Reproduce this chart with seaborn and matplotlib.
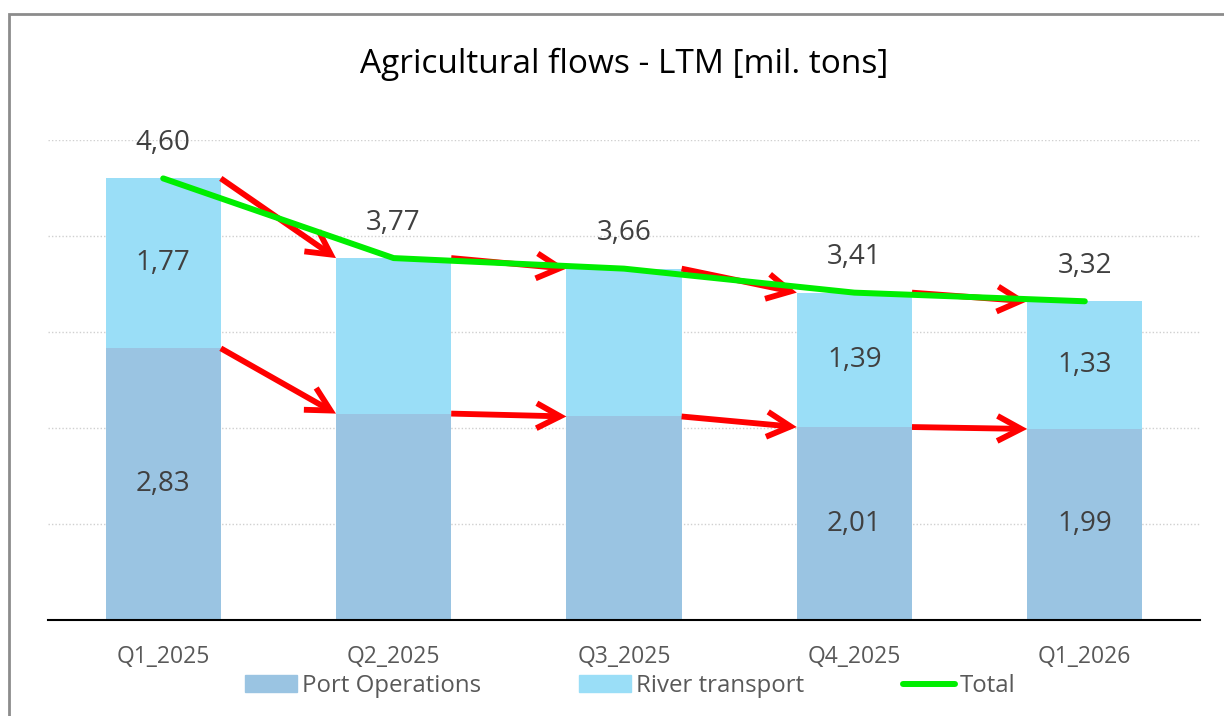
import matplotlib
matplotlib.use("Agg")
import matplotlib.pyplot as plt
import matplotlib.patches as mpatches
from matplotlib.lines import Line2D
import numpy as np
import seaborn as sns

quarters = ["Q1_2025", "Q2_2025", "Q3_2025", "Q4_2025", "Q1_2026"]
port = [2.83, 2.15, 2.12, 2.01, 1.99]
river = [1.77, 1.62, 1.54, 1.39, 1.33]
total = [4.60, 3.77, 3.66, 3.41, 3.32]
show_parts = [True, False, False, True, True]

port_col = "#9ac4e2"
river_col = "#9adef7"
bar_w = 0.5

sns.set_style("white")
plt.rcParams["font.family"] = ["Open Sans", "DejaVu Sans"]

fig = plt.figure(figsize=(12.24, 7.16), dpi=100)
ax = fig.add_axes([48 / 1224, 1 - 620 / 716, 1152 / 1224, 480 / 716])

# stacked bars: total drawn in river colour, port on top
sns.barplot(x=quarters, y=total, color=river_col, width=bar_w, saturation=1,
            linewidth=0, ax=ax)
sns.barplot(x=quarters, y=port, color=port_col, width=bar_w, saturation=1,
            linewidth=0, ax=ax)

idx = np.arange(len(quarters))

# red arrows between bars
for i in range(len(quarters) - 1):
    for vals in (total, port):
        ax.annotate("", xy=(i + 1 - bar_w / 2, vals[i + 1]), xytext=(i + bar_w / 2, vals[i]),
                    arrowprops=dict(arrowstyle="->,head_length=0.85,head_width=0.45", lw=4.2,
                                    color="#ff0000", mutation_scale=20, shrinkA=0, shrinkB=0,
                                    joinstyle="miter", capstyle="butt"),
                    zorder=4)

sns.lineplot(x=idx, y=total, color="#00ee00", lw=4.3, ax=ax, zorder=5,
             solid_capstyle="round")

fmt = lambda v: f"{v:.2f}".replace(".", ",")
for i in idx:
    ax.text(i, total[i] + 0.37, fmt(total[i]), ha="center", va="center",
            fontsize=20, color="#404040", zorder=6)
    if show_parts[i]:
        ax.text(i, port[i] / 2, fmt(port[i]), ha="center", va="center",
                fontsize=20, color="#404040", zorder=6)
        ax.text(i, port[i] + river[i] / 2, fmt(river[i]), ha="center", va="center",
                fontsize=20, color="#404040", zorder=6)

ax.set_xlim(-0.5, len(quarters) - 0.5)
ax.set_ylim(0, 5)
ax.set_yticks([1, 2, 3, 4, 5])
ax.set_yticklabels([])
ax.tick_params(axis="y", length=0)
ax.yaxis.grid(True, linestyle=(0, (1, 1.5)), color="#d0d0d0", lw=1)
ax.set_axisbelow(True)
ax.set_xlabel("")
ax.set_ylabel("")
ax.set_xticks(idx)
ax.set_xticklabels(quarters, fontsize=16.5, color="#595959")
ax.tick_params(axis="x", which="major", length=0, pad=18)
ax.set_xticks(np.arange(len(quarters) + 1) - 0.5, minor=True)
ax.tick_params(axis="x", which="minor", length=9, width=1.5, color="black", direction="out")
for s in ["left", "right", "top"]:
    ax.spines[s].set_visible(False)
ax.spines["bottom"].set_color("black")
ax.spines["bottom"].set_linewidth(1.5)

fig.text(624 / 1224, 1 - 64 / 716, "Agricultural flows - LTM [mil. tons]",
         ha="center", va="center", fontsize=24, color="black")

handles = [mpatches.Patch(color=port_col), mpatches.Patch(color=river_col),
           Line2D([], [], color="#00ee00", lw=4.3, solid_capstyle="round")]
fig.legend(handles, ["Port Operations", "River transport", "Total"], ncol=3,
           loc="center", bbox_to_anchor=(630 / 1224, 1 - 686 / 716), frameon=False,
           fontsize=17.3, labelcolor="#595959", handlelength=2.17, handleheight=0.7,
           handletextpad=0.2, columnspacing=4.1)

fig.patches.append(mpatches.Rectangle((9 / 1224, -0.1), 1.2, 0.1 + 1 - 14 / 716,
                                      transform=fig.transFigure, fill=False,
                                      edgecolor="#8c8c8c", lw=2, figure=fig))

fig.savefig("out.png", dpi=100)
